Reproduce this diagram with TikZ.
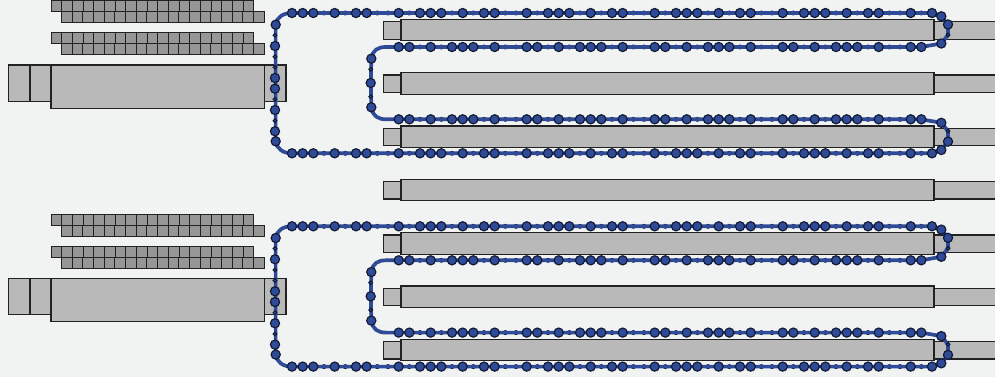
\documentclass[tikz,border=0pt]{standalone}
\definecolor{bgc}{HTML}{F1F3F3}
\definecolor{cellc}{HTML}{969696}
\definecolor{blockc}{HTML}{B9B9B9}
\definecolor{edgec}{HTML}{222222}
\definecolor{chainc}{HTML}{2F4A96}
\definecolor{beadedge}{HTML}{101A33}
\tikzset{
  cell/.style={fill=cellc,draw=edgec,line width=1pt},
  block/.style={fill=blockc,draw=edgec,line width=1.05pt},
  chain/.style={draw=chainc,line width=3.7pt,line join=round},
  bigbead/.style={fill=chainc,draw=beadedge,line width=1.15pt},
  smallbead/.style={fill=chainc,draw=beadedge,line width=1pt},
  tickbead/.style={fill=beadedge,draw=none}
}
\newcommand{\CellRow}[2]{%
  \foreach \i in {0,...,18}
    \draw[cell] ({#1+10.667*\i},{#2}) rectangle ({#1+10.667*(\i+1)},{#2+11});}
\newcommand{\Bar}[1]{%
  \draw[block] (383.5,{#1+2.3}) rectangle (401,{#1+19.7});
  \draw[block] (934,{#1+2.3}) rectangle (998,{#1+19.7});
  \draw[block] (401,{#1}) rectangle (934,{#1+21.4});}
\newcommand{\BigB}[2]{\draw[bigbead] ({#1},{#2}) circle (4.6);}
\newcommand{\SmallB}[2]{\draw[smallbead] ({#1},{#2}) circle (1.9);}
\newcommand{\TickB}[2]{\fill[tickbead] ({#1},{#2}) circle (2.5);}
\newcommand{\Group}{%
  \CellRow{51}{1}\CellRow{61.5}{12}\CellRow{51}{33}\CellRow{61.5}{44}
  \draw[block] (8.5,65) rectangle (30,101.5);
  \draw[block] (30,65) rectangle (51,101.5);
  \draw[block] (264.5,65) rectangle (286,101.5);
  \draw[block] (51,65) rectangle (264.5,108.2);
  \Bar{19.4}\Bar{72.7}\Bar{126}
  \coordinate (tl) at (275.6,24.7);
  \coordinate (r1a) at (292,13);
  \coordinate (r1b) at (932,13);
  \coordinate (tr1) at (941.3,16.3);
  \coordinate (tr2) at (948,24.5);
  \coordinate (tr3) at (948,35);
  \coordinate (tr4) at (941.3,43.5);
  \coordinate (r2b) at (921,47);
  \coordinate (r2a) at (386,47);
  \coordinate (il1) at (371.3,58.7);
  \coordinate (il2) at (371.3,107.3);
  \coordinate (r3a) at (386,119.3);
  \coordinate (r3b) at (921,119.3);
  \coordinate (br1) at (941.3,122.8);
  \coordinate (br2) at (948,131);
  \coordinate (br3) at (948,141.6);
  \coordinate (br4) at (941.3,150);
  \coordinate (r4b) at (932,153.3);
  \coordinate (r4a) at (292,153.3);
  \coordinate (bl) at (275.6,141.3);
  % ticks peeping out from under the chain on the straight rows
  \foreach \y in {13,153.3}{
    \foreach \p in {0,12,24,36,48}{
      \foreach \o in {3,5,8,9,11}{\TickB{292+10.667*(\p+\o)}{\y}}
    }
  }
  \foreach \y in {47,119.3}{
    \foreach \p in {12,24,36,48}{
      \foreach \o in {0,2,6,8,9}{\TickB{292+10.667*(\p+\o)}{\y}}
    }
  }
  \draw[chain] (tl) .. controls (277,17) and (283,13) .. (r1a) -- (r1b)
    -- (tr1) -- (tr2) -- (tr3) -- (tr4) -- (r2b) -- (r2a)
    .. controls (378,47) and (372.5,50) .. (il1)
    -- (370.8,83) -- (il2)
    .. controls (372.5,116) and (378,119.3) .. (r3a) -- (r3b)
    -- (br1) -- (br2) -- (br3) -- (br4) -- (r4b) -- (r4a)
    .. controls (283,153.3) and (277,149) .. (bl) -- cycle;
  % straight rows
  \foreach \y in {13,153.3}{
    \foreach \p in {0,12,24,36,48}{
      \foreach \o in {0,1,2,4,6,7,10}{\BigB{292+10.667*(\p+\o)}{\y}}
    }
    \BigB{932}{\y}
  }
  \foreach \y in {47,119.3}{
    \foreach \p in {12,24,36,48}{
      \foreach \o in {1,3,4,5,7,10,11}{\BigB{292+10.667*(\p+\o)}{\y}}
    }
    \BigB{398.7}{\y}\BigB{409.4}{\y}
  }
  % left column
  \foreach \y in {35.3,56.7,67.3,99.3,120.7}{\SmallB{275}{\y}}
  \foreach \y in {46,78,88.7,110,131.3}{\BigB{275}{\y}}
  \BigB{275.7}{24.7}\BigB{275.7}{141.3}
  % inner column
  \SmallB{370.7}{69.3}\SmallB{370.7}{96.7}
  \BigB{371.3}{58.7}\BigB{370.7}{83}\BigB{371.3}{107.3}
  % right turns
  \BigB{941.3}{16.3}\BigB{948}{24.5}\SmallB{948}{35}\BigB{941.3}{43.5}
  \BigB{941.3}{122.8}\SmallB{948}{131}\BigB{948}{141.6}\BigB{941.3}{150}
}
\begin{document}
\begin{tikzpicture}[x=1pt,y=-1pt]
  \useasboundingbox (0,0) rectangle (995,377);
  \fill[bgc] (0,0) rectangle (995,377);
  \clip (0,0) rectangle (995,377);
  \Bar{179.3}
  \begin{scope}
    \Group
  \end{scope}
  \begin{scope}[yshift=-213.3pt]
    \Group
  \end{scope}
\end{tikzpicture}
\end{document}
